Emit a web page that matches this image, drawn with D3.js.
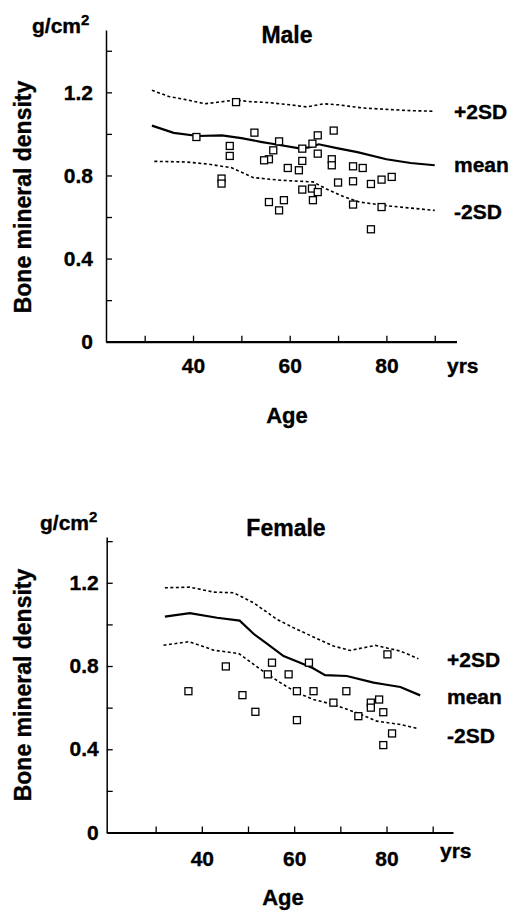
<!DOCTYPE html>
<meta charset="utf-8">
<style>
body {
  margin: 0;
  background: #fff;
}

text {
  font-family: 'Liberation Sans', Arial, sans-serif;
  font-weight: bold;
  fill: #000;
  stroke: #000;
  stroke-width: 0.35px;
}

.axis path,
.axis line {
  stroke: #000;
}

.axis text {
  font-size: 21px;
}
</style>
<div id="chart"></div>

<script src="https://d3js.org/d3.v7.min.js"></script>
<script>
// ---- data ----
var xTicks = [30, 40, 50, 60, 70, 80, 90]
var xTickLabels = ['', '40', '', '60', '', '80', '']
var yTicks = [0, 0.2, 0.4, 0.6, 0.8, 1.0, 1.2, 1.4]
var yTickLabels = ['0', '', '0.4', '', '0.8', '', '1.2', '']
var curveLabels = ['+2SD', 'mean', '-2SD']

// male reference curves: [age, g/cm2]
var maleUpper = [[31.5, 1.21], [35, 1.18], [38.5, 1.165], [42.5, 1.145], [46, 1.155], [48.7, 1.163], [52, 1.155], [56, 1.15], [60, 1.14], [63.5, 1.13], [67, 1.145], [70, 1.14], [75, 1.125], [80, 1.118], [85, 1.112], [90, 1.109]]
var maleMean = [[31.5, 1.04], [36, 1.005], [41, 0.99], [46, 0.993], [50, 0.98], [54, 0.962], [57, 0.95], [62, 0.93], [64, 0.935], [66, 0.95], [70, 0.93], [74, 0.912], [80, 0.878], [85, 0.86], [90, 0.849]]
var maleLower = [[32, 0.868], [38.5, 0.865], [43, 0.855], [48, 0.837], [52.4, 0.79], [58, 0.777], [64.8, 0.769], [67.6, 0.735], [71, 0.7], [74.4, 0.672], [81, 0.652], [90, 0.632]]

var malePoints = [[40.7, 0.985], [48.9, 1.153], [47.6, 0.942], [47.6, 0.894], [45.9, 0.785], [45.9, 0.761], [52.7, 1.006], [57.8, 0.964], [56.6, 0.921], [55.7, 0.878], [54.7, 0.873], [59.6, 0.836], [61.9, 0.825], [62.6, 0.87], [62.6, 0.929], [64.7, 0.953], [65.8, 0.993], [65.8, 0.905], [62.6, 0.732], [64.6, 0.737], [64.8, 0.681], [65.8, 0.72], [55.7, 0.672], [57.8, 0.632], [58.8, 0.681], [69.1, 1.016], [68.7, 0.878], [68.7, 0.849], [73.1, 0.844], [75.1, 0.836], [70, 0.766], [73.1, 0.772], [76.8, 0.759], [79, 0.78], [81.1, 0.793], [73.1, 0.66], [79, 0.648], [76.8, 0.541]]

// female reference curves
var femaleUpper = [[32, 1.176], [37.4, 1.179], [42.6, 1.155], [46.9, 1.152], [51.2, 1.104], [56.3, 1.024], [60.6, 0.976], [68.5, 0.896], [72.1, 0.875], [77.6, 0.899], [83, 0.872], [86.9, 0.835]]
var femaleMean = [[32, 1.037], [37.4, 1.054], [43.3, 1.032], [48.2, 1.018], [51.2, 0.955], [54.1, 0.908], [57.7, 0.848], [61.3, 0.816], [64, 0.79], [66.7, 0.756], [71.4, 0.752], [77.2, 0.72], [80, 0.71], [83, 0.699], [87.3, 0.659]]
var femaleLower = [[31.7, 0.9], [37.2, 0.917], [42.6, 0.876], [48, 0.86], [52.7, 0.784], [57, 0.72], [60.6, 0.672], [64.2, 0.639], [68.5, 0.615], [73.6, 0.575], [77.9, 0.535], [83, 0.519], [86.9, 0.499]]

var femalePoints = [[37.1, 0.679], [45.2, 0.798], [48.8, 0.66], [51.6, 0.58], [54.3, 0.76], [55.2, 0.816], [58.8, 0.76], [60.6, 0.679], [60.6, 0.54], [63.2, 0.816], [64.2, 0.679], [68.5, 0.624], [71.3, 0.679], [73.9, 0.559], [76.6, 0.624], [76.6, 0.6], [78.4, 0.639], [79.3, 0.578], [80.2, 0.856], [81.2, 0.476], [79.3, 0.42]]

var svg = d3.select('#chart')
  .append('svg')
  .attr('width', 515)
  .attr('height', 915)

function drawPanel(p) {
  var x = d3.scaleLinear().domain(p.xDomain).range(p.xRange)
  var y = d3.scaleLinear().domain(p.yDomain).range(p.yRange)

  var g = svg.append('g')

  var line = d3.line()
    .x(d => x(d[0]))
    .y(d => y(d[1]))

  // y axis, ticks pointing inward
  var yAxis = d3.axisLeft(y)
    .tickValues(yTicks)
    .tickFormat((d, i) => yTickLabels[i])
    .tickSizeInner(-6)
    .tickSizeOuter(0)
    .tickPadding(p.yPad)
  g.append('g')
    .attr('class', 'axis y-axis')
    .attr('transform', 'translate(' + p.xRange[0] + ',0)')
    .call(yAxis)
    .call(a => a.select('.domain').attr('stroke-width', 1.5))
    .call(a => a.selectAll('line').attr('stroke-width', 1.3))

  var xAxis = d3.axisBottom(x)
    .tickValues(xTicks)
    .tickFormat((d, i) => xTickLabels[i])
    .tickSizeInner(-6)
    .tickSizeOuter(0)
    .tickPadding(p.xPad)
  g.append('g')
    .attr('class', 'axis x-axis')
    .attr('transform', 'translate(0,' + p.yRange[0] + ')')
    .call(xAxis)
    .call(a => a.select('.domain').attr('stroke-width', 2.2))
    .call(a => a.selectAll('line').attr('stroke-width', 1.3))

  // reference curves
  var curves = [p.upper, p.mean, p.lower]
  curves.forEach((c, i) => {
    g.append('path')
      .datum(c)
      .attr('d', line)
      .attr('fill', 'none')
      .attr('stroke', '#000')
      .attr('stroke-width', i === 1 ? 2.2 : 1.6)
      .attr('stroke-dasharray', i === 1 ? null : '3,2.5')

    var last = c[c.length - 1]
    g.append('text')
      .text(curveLabels[i])
      .attr('x', p.labelX)
      .attr('y', y(last[1]) + p.labelShift[i])
      .attr('dy', '0.36em')
      .attr('font-size', 21)
  })

  // patients
  var s = 7
  g.selectAll('.pt')
    .data(p.points)
    .enter()
    .append('rect')
    .attr('class', 'pt')
    .attr('x', d => x(d[0]) - s / 2)
    .attr('y', d => y(d[1]) - s / 2)
    .attr('width', s)
    .attr('height', s)
    .attr('fill', '#fff')
    .attr('stroke', '#000')
    .attr('stroke-width', 1.3)

  // titles and units
  g.append('text')
    .text(p.title)
    .attr('x', p.titleX)
    .attr('y', p.titleY)
    .attr('text-anchor', 'middle')
    .attr('font-size', 23)

  var unit = g.append('text')
    .attr('x', p.unitX)
    .attr('y', p.unitY)
    .attr('font-size', 21)
  unit.append('tspan').text('g/cm')
  unit.append('tspan').text('2').attr('font-size', 15).attr('dy', -8)

  g.append('text')
    .text('Bone mineral density')
    .attr('transform', 'translate(' + p.ylabX + ',' + p.ylabY + ') rotate(-90)')
    .attr('text-anchor', 'middle')
    .attr('font-size', 23)

  g.append('text')
    .text('yrs')
    .attr('x', p.yrsX)
    .attr('y', p.yrsY)
    .attr('font-size', 21)

  g.append('text')
    .text('Age')
    .attr('x', p.ageX)
    .attr('y', p.ageY)
    .attr('text-anchor', 'middle')
    .attr('font-size', 22)
}

drawPanel({
  title: 'Male',
  upper: maleUpper, mean: maleMean, lower: maleLower, points: malePoints,
  xDomain: [22, 94.5], xRange: [106, 456.5],
  yDomain: [0, 1.5], yRange: [341.7, 30],
  xPad: 16, yPad: 13,
  labelX: 454, labelShift: [0, -1, 1],
  titleX: 287, titleY: 43,
  unitX: 32, unitY: 33,
  ylabX: 31, ylabY: 197,
  yrsX: 447, yrsY: 373,
  ageX: 287, ageY: 423
})

drawPanel({
  title: 'Female',
  upper: femaleUpper, mean: femaleMean, lower: femaleLower, points: femalePoints,
  xDomain: [19.4, 94.4], xRange: [106.7, 453],
  yDomain: [0, 1.42], yRange: [832.5, 537],
  xPad: 19, yPad: 8,
  labelX: 447, labelShift: [1, 1, 7],
  titleX: 286, titleY: 536,
  unitX: 40, unitY: 530,
  ylabX: 31, ylabY: 685,
  yrsX: 440, yrsY: 858,
  ageX: 283, ageY: 905
})
</script>
